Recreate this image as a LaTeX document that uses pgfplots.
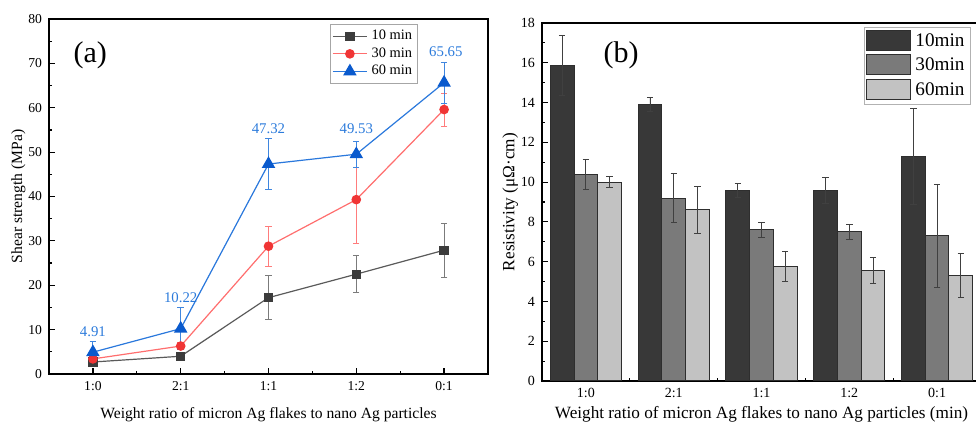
\documentclass[border=0pt]{standalone}
\usepackage{fontspec}
\setmainfont{Liberation Serif}
\usepackage{pgfplots}
\pgfplotsset{compat=1.18}
\definecolor{c10}{HTML}{3C3C3C}
\definecolor{l10}{HTML}{5A5A5A}
\definecolor{c30}{HTML}{F03535}
\definecolor{l30}{HTML}{FF6E6E}
\definecolor{c60}{HTML}{0A5ACD}
\definecolor{l60}{HTML}{2A78DC}
\definecolor{lb}{HTML}{2C7BDB}
\definecolor{b10}{HTML}{383838}
\definecolor{b30}{HTML}{7A7A7A}
\definecolor{b60}{HTML}{C2C2C2}
\definecolor{bd}{HTML}{2E2E2E}
\pgfplotsset{blegend/.style={legend image code/.code={\draw[##1] (0pt,-4.5pt) rectangle (22pt,5.5pt);}}}
\begin{document}
\begin{tikzpicture}
\begin{axis}[
  at={(24.5pt,24.5pt)}, anchor=south west, scale only axis,
  width=219.5pt, height=177.5pt,
  xmin=-0.5, xmax=4.5, ymin=0, ymax=80,
  xtick={0,...,4}, xticklabels={1:0,2:1,1:1,1:2,0:1},
  minor xtick={0.5,1.5,2.5,3.5},
  ytick={0,10,...,80}, minor ytick={5,15,...,75},
  xtick pos=bottom, ytick pos=left, tick align=inside,
  major tick length=3pt, minor tick length=1.6pt,
  axis line style={line width=0.75pt},
  every tick/.style={black, line width=0.6pt},
  tick label style={font=\fontsize{6.8}{7}\selectfont},
  /pgf/number format/assume math mode=true,
  xlabel={Weight ratio of micron Ag flakes to nano Ag particles},
  ylabel={Shear strength (MPa)},
  label style={font=\fontsize{7.8}{8}\selectfont},
  xlabel style={yshift=-1.5pt},
  ylabel style={yshift=-5.5pt},
  legend style={at={(rel axis cs:0.8405,0.986)}, anchor=north east,
    draw=gray!70, font=\fontsize{7.2}{7.5}\selectfont, inner sep=0.8pt,
    row sep=-1.5pt, legend cell align=left},
]
\addplot+[l10, line width=0.6pt, mark=square*, mark size=2pt,
  mark options={fill=c10, draw=c10},
  error bars/.cd, y dir=both, y explicit,
  error bar style={l10!80, line width=0.45pt},
  error mark options={rotate=90, mark size=1.6pt, l10!80, line width=0.45pt}]
  table[x=x, y=y, y error=e] {
x y e
0 2.7 0.4
1 4.0 0.5
2 17.2 5.0
3 22.5 4.2
4 27.9 6.1
};
\addlegendentry{10 min}
\addplot+[l30, line width=0.6pt, mark=*, mark size=2.1pt,
  mark options={fill=c30, draw=c30},
  error bars/.cd, y dir=both, y explicit,
  error bar style={l30!90, line width=0.45pt},
  error mark options={rotate=90, mark size=1.6pt, l30!90, line width=0.45pt}]
  table[x=x, y=y, y error=e] {
x y e
0 3.4 0.5
1 6.3 0.8
2 28.8 4.5
3 39.3 9.8
4 59.6 3.7
};
\addlegendentry{30 min}
\addplot+[l60, line width=0.6pt, mark=triangle*, mark size=3.3pt,
  mark options={fill=c60, draw=c60},
  error bars/.cd, y dir=both, y explicit,
  error bar style={l60!90, line width=0.45pt},
  error mark options={rotate=90, mark size=1.6pt, l60!90, line width=0.45pt}]
  table[x=x, y=y, y error=e] {
x y e
0 4.91 2.4
1 10.22 4.8
2 47.32 5.8
3 49.53 2.9
4 65.65 4.6
};
\addlegendentry{60 min}
\node[lb, font=\fontsize{7.4}{8}\selectfont] at (axis cs:0,9.5) {4.91};
\node[lb, font=\fontsize{7.4}{8}\selectfont] at (axis cs:1,17.1) {10.22};
\node[lb, font=\fontsize{7.4}{8}\selectfont] at (axis cs:2,55.2) {47.32};
\node[lb, font=\fontsize{7.4}{8}\selectfont] at (axis cs:3,55.2) {49.53};
\node[lb, font=\fontsize{7.4}{8}\selectfont] at (axis cs:4.02,72.6) {65.65};
\node[font=\fontsize{15}{16}\selectfont] at (axis cs:-0.03,71.9) {(a)};
\end{axis}

\begin{axis}[
  at={(271pt,21pt)}, anchor=south west, scale only axis,
  width=219.5pt, height=179pt,
  xmin=-0.5, xmax=4.5, ymin=0, ymax=18,
  xtick={0,...,4}, xticklabels={1:0,2:1,1:1,1:2,0:1},
  minor xtick={0.5,1.5,2.5,3.5},
  ytick={0,2,...,18}, minor ytick={1,3,...,17},
  xtick pos=bottom, ytick pos=left, tick align=inside,
  major tick length=3pt, minor tick length=1.6pt,
  axis line style={line width=0.75pt},
  every tick/.style={black, line width=0.6pt},
  tick label style={font=\fontsize{7}{7.5}\selectfont},
  /pgf/number format/assume math mode=true,
  xlabel={Weight ratio of micron Ag flakes to nano Ag particles (min)},
  ylabel={Resistivity (μΩ·cm)},
  label style={font=\fontsize{8.6}{9}\selectfont},
  xlabel style={yshift=2.5pt},
  ylabel style={yshift=-5.5pt},
  legend style={at={(rel axis cs:0.977,0.989)}, anchor=north east,
    draw=gray!60, font=\fontsize{9.6}{10}\selectfont, inner sep=1pt,
    row sep=0.5pt, legend cell align=left},
]
\addplot[ybar, bar width=0.27, bar shift=0, fill=b10, draw=bd, line width=0.5pt, blegend,
  error bars/.cd, y dir=both, y explicit,
  error bar style={black!75, line width=0.45pt},
  error mark options={rotate=90, mark size=1.6pt, black!75, line width=0.45pt}]
  table[x=x, y=y, y error=e] {
x y e
-0.27 15.85 1.5
0.73 13.9 0.35
1.73 9.6 0.35
2.73 9.6 0.65
3.73 11.3 2.4
};
\addlegendentry{10min}
\addplot[ybar, bar width=0.27, bar shift=0, fill=b30, draw=bd, line width=0.5pt, blegend,
  error bars/.cd, y dir=both, y explicit,
  error bar style={black!75, line width=0.45pt},
  error mark options={rotate=90, mark size=1.6pt, black!75, line width=0.45pt}]
  table[x=x, y=y, y error=e] {
x y e
0 10.4 0.75
1 9.2 1.25
2 7.6 0.37
3 7.5 0.37
4 7.3 2.6
};
\addlegendentry{30min}
\addplot[ybar, bar width=0.27, bar shift=0, fill=b60, draw=bd, line width=0.5pt, blegend,
  error bars/.cd, y dir=both, y explicit,
  error bar style={black!75, line width=0.45pt},
  error mark options={rotate=90, mark size=1.6pt, black!75, line width=0.45pt}]
  table[x=x, y=y, y error=e] {
x y e
0.27 10.0 0.27
1.27 8.6 1.2
2.27 5.75 0.75
3.27 5.55 0.65
4.27 5.3 1.1
};
\addlegendentry{60min}
\node[font=\fontsize{15}{16}\selectfont] at (axis cs:0.4,16.4) {(b)};
\end{axis}
\pgfresetboundingbox
\path[use as bounding box] (0pt,0pt) rectangle (488pt,211.5pt);
\end{tikzpicture}
\end{document}
